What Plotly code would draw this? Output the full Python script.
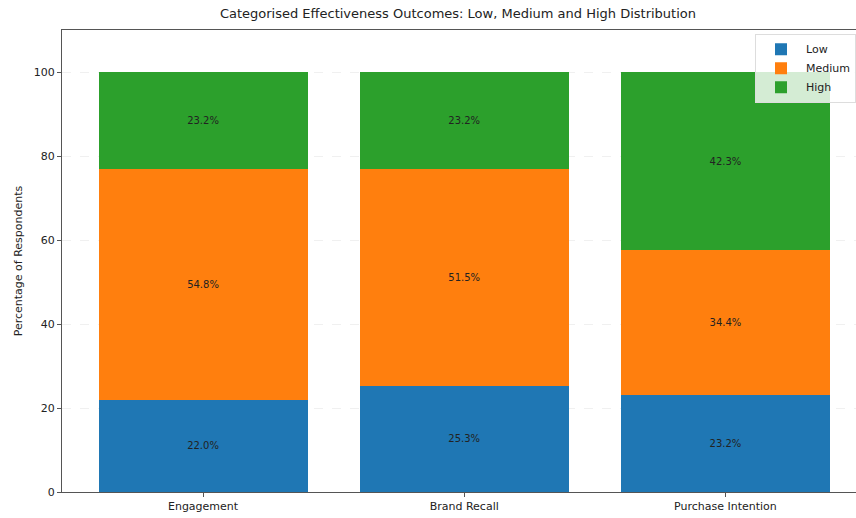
import plotly.graph_objects as go

categories = ["Engagement", "Brand Recall", "Purchase Intention"]
low = [22.0, 25.3, 23.2]
medium = [54.8, 51.5, 34.4]
high = [23.2, 23.2, 42.3]
series = [("Low", low, "#1f77b4"), ("Medium", medium, "#ff7f0e"), ("High", high, "#2ca02c")]
x_pos = list(range(len(categories)))

fig = go.Figure()
for name, vals, color in series:
    fig.add_trace(go.Bar(
        x=x_pos, y=vals, name=name, width=0.8,
        marker=dict(color=color, line=dict(width=0)),
        text=[f"{v:.1f}%" for v in vals], textposition="inside",
        insidetextanchor="middle", textangle=0,
        textfont=dict(size=10, color="#222222"),
    ))

fig.update_layout(
    barmode="stack",
    width=856, height=518,
    margin=dict(l=62, r=0, t=30, b=26),
    paper_bgcolor="white", plot_bgcolor="white",
    font=dict(family="DejaVu Sans", size=11, color="#222222"),
    title=dict(text="Categorised Effectiveness Outcomes: Low, Medium and High Distribution",
               x=0.535, xanchor="center", y=0.982, yanchor="top",
               font=dict(size=13, color="#222222")),
    uniformtext=dict(mode="show", minsize=8),
    legend=dict(x=1.0, xanchor="right", y=0.992, yanchor="top",
                bgcolor="rgba(255,255,255,0.8)", bordercolor="#dddddd", borderwidth=1,
                font=dict(size=11), traceorder="normal", itemwidth=40,
                tracegroupgap=0),
)
fig.update_xaxes(range=[-0.54, 2.50], tickvals=x_pos, ticktext=categories,
                 showline=True, linecolor="#555555", linewidth=1, mirror=True,
                 ticks="outside", ticklen=4, tickcolor="#555555", showgrid=False,
                 tickfont=dict(size=11))
fig.update_yaxes(range=[0, 110], tickvals=[0, 20, 40, 60, 80, 100],
                 showline=True, linecolor="#555555", linewidth=1,
                 ticks="outside", ticklen=4, tickcolor="#555555",
                 showgrid=True, gridcolor="rgba(0,0,0,0.06)", griddash="dash",
                 zeroline=False,
                 title=dict(text="Percentage of Respondents", font=dict(size=11), standoff=8),
                 tickfont=dict(size=11))

fig.write_html("out.html")
